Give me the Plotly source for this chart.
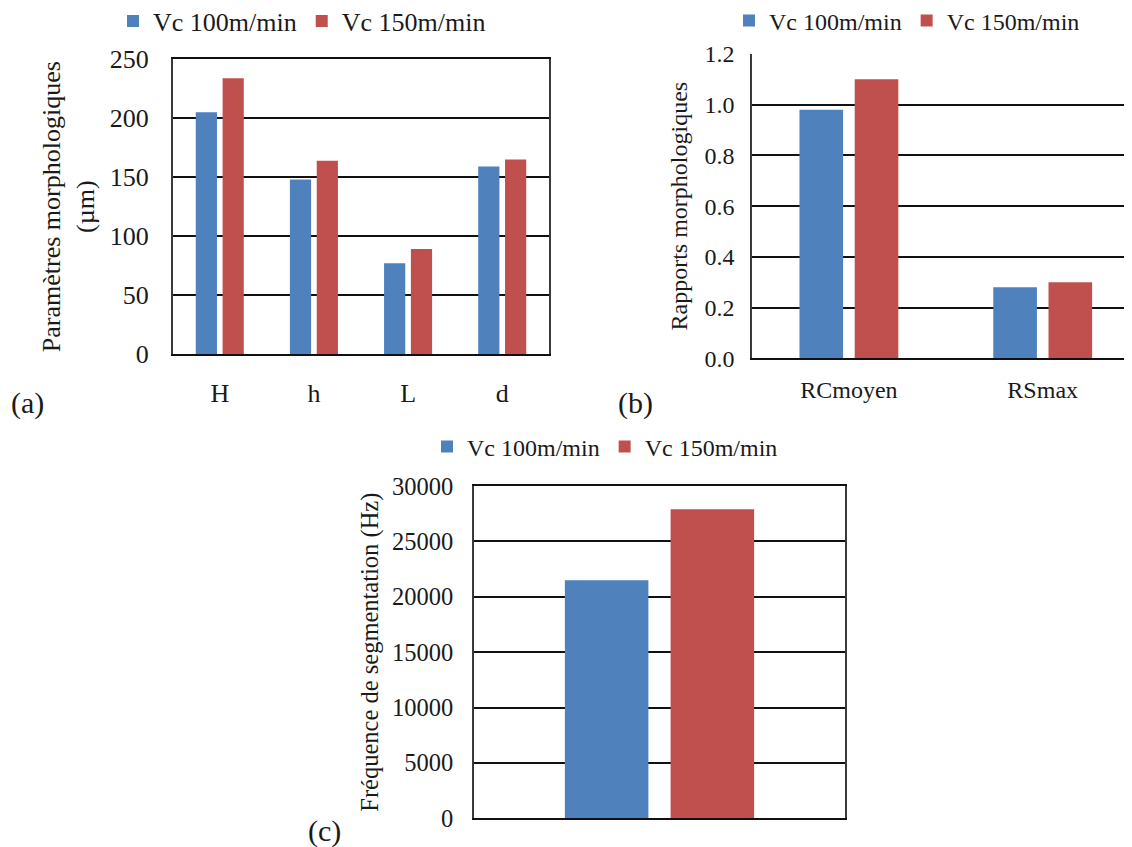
import plotly.graph_objects as go

# ---------------- data ----------------
series_names = ["Vc 100m/min", "Vc 150m/min"]

cats_a = ["H", "h", "L", "d"]
a_vc100 = [205, 148, 77, 159]
a_vc150 = [234, 164, 89, 165]

cats_b = ["RCmoyen", "RSmax"]
b_vc100 = [0.98, 0.28]
b_vc150 = [1.10, 0.30]

cats_c = [""]
c_vc100 = [21500]
c_vc150 = [27900]

ticks_a = [0, 50, 100, 150, 200, 250]
ticks_b = [0.0, 0.2, 0.4, 0.6, 0.8, 1.0, 1.2]
ticks_c = [0, 5000, 10000, 15000, 20000, 25000, 30000]

# ---------------- style ----------------
W, H = 1132, 847
OFF = 8  # page body margin of the html page
BLUE = "#4F81BD"
RED = "#C0504D"
FONT = "Liberation Serif, Times New Roman, serif"
TXT = "#1a1a1a"
GRID = "#111111"
FRAME = "#3a3a3a"


def px_x(a, b):
    return [(a - OFF) / W, min((b - OFF) / W, 1.0)]


def px_y(top, bottom):
    return [1 - (bottom - OFF) / H, 1 - (top - OFF) / H]


def ppx(x):
    return (x - OFF) / W


def ppy(y):
    return 1 - (y - OFF) / H


fig = go.Figure()

panels = [
    (cats_a, a_vc100, a_vc150, "x", "y", "legend"),
    (cats_b, b_vc100, b_vc150, "x2", "y2", "legend2"),
    (cats_c, c_vc100, c_vc150, "x3", "y3", "legend3"),
]
for cats, v1, v2, xa, ya, lg in panels:
    fig.add_trace(go.Bar(x=cats, y=v1, name=series_names[0], marker_color=BLUE,
                         marker_line_width=0, xaxis=xa, yaxis=ya, legend=lg))
    fig.add_trace(go.Bar(x=cats, y=v2, name=series_names[1], marker_color=RED,
                         marker_line_width=0, xaxis=xa, yaxis=ya, legend=lg))

common_y = dict(showgrid=True, gridcolor=GRID, gridwidth=1.7, zeroline=False,
                ticks="", showline=True, linecolor=FRAME, linewidth=1.6,
                automargin=False, tickfont=dict(family=FONT, color=TXT))
common_x = dict(type="category", showgrid=False, zeroline=False, ticks="",
                showline=True, linecolor=GRID, linewidth=1.8, automargin=False,
                tickfont=dict(family=FONT, color=TXT))

b_left = 752
b_width = (W + OFF) - b_left

fig.update_layout(
    template="none",
    width=W, height=H, autosize=False,
    margin=dict(l=0, r=0, t=0, b=0, autoexpand=False),
    paper_bgcolor="white", plot_bgcolor="white",
    font=dict(family=FONT, color=TXT),
    barmode="group", bargap=0.43, bargroupgap=0.21,
    # panel (a)
    xaxis=dict(common_x, domain=px_x(172.7, 549.3), anchor="y", mirror=True,
               tickfont=dict(family=FONT, color=TXT, size=26), ticklabelstandoff=15),
    yaxis=dict(common_y, domain=px_y(59.3, 354), anchor="x", mirror=True,
               range=[0, 250], tickvals=ticks_a,
               tickfont=dict(family=FONT, color=TXT, size=26), ticklabelstandoff=17,
               title=dict(text="Paramètres morphologiques<br>(µm)",
                          font=dict(family=FONT, size=26, color=TXT), standoff=8)),
    # panel (b)
    xaxis2=dict(common_x, domain=px_x(b_left, W + OFF), anchor="y2", mirror=False,
                range=[-0.5, -0.5 + b_width / 193.8],
                tickfont=dict(family=FONT, color=TXT, size=24), ticklabelstandoff=9),
    yaxis2=dict(common_y, domain=px_y(54, 358.3), anchor="x2", mirror=False,
                range=[0, 1.2], tickvals=ticks_b, tickformat=".1f",
                tickfont=dict(family=FONT, color=TXT, size=24), ticklabelstandoff=11,
                title=dict(text="Rapports morphologiques",
                           font=dict(family=FONT, size=24, color=TXT), standoff=10)),
    # panel (c)
    xaxis3=dict(common_x, domain=px_x(474, 845), anchor="y3", mirror=True,
                showticklabels=False),
    yaxis3=dict(common_y, domain=px_y(486, 818.3), anchor="x3", mirror=True,
                range=[0, 30000], tickvals=ticks_c, tickformat="d",
                tickfont=dict(family=FONT, color=TXT, size=24.5), ticklabelstandoff=14,
                title=dict(text="Fréquence de segmentation (Hz)",
                           font=dict(family=FONT, size=24.5, color=TXT), standoff=6)),
    legend=dict(orientation="h", x=ppx(302), xanchor="center", y=ppy(21),
                yanchor="middle", font=dict(family=FONT, size=26, color=TXT),
                bgcolor="rgba(0,0,0,0)"),
    legend2=dict(orientation="h", x=ppx(907), xanchor="center", y=ppy(21),
                 yanchor="middle", font=dict(family=FONT, size=24, color=TXT),
                 bgcolor="rgba(0,0,0,0)"),
    legend3=dict(orientation="h", x=ppx(605), xanchor="center", y=ppy(447),
                 yanchor="middle", font=dict(family=FONT, size=24, color=TXT),
                 bgcolor="rgba(0,0,0,0)"),
    annotations=[
        dict(text="(a)", x=ppx(27), y=ppy(403), xref="paper", yref="paper",
             xanchor="center", yanchor="middle",
             showarrow=False, font=dict(family=FONT, size=30, color=TXT)),
        dict(text="(b)", x=ppx(635), y=ppy(403), xref="paper", yref="paper",
             xanchor="center", yanchor="middle",
             showarrow=False, font=dict(family=FONT, size=30, color=TXT)),
        dict(text="(c)", x=ppx(324), y=ppy(831), xref="paper", yref="paper",
             xanchor="center", yanchor="middle",
             showarrow=False, font=dict(family=FONT, size=30, color=TXT)),
    ],
)

fig.write_html("out.html")
